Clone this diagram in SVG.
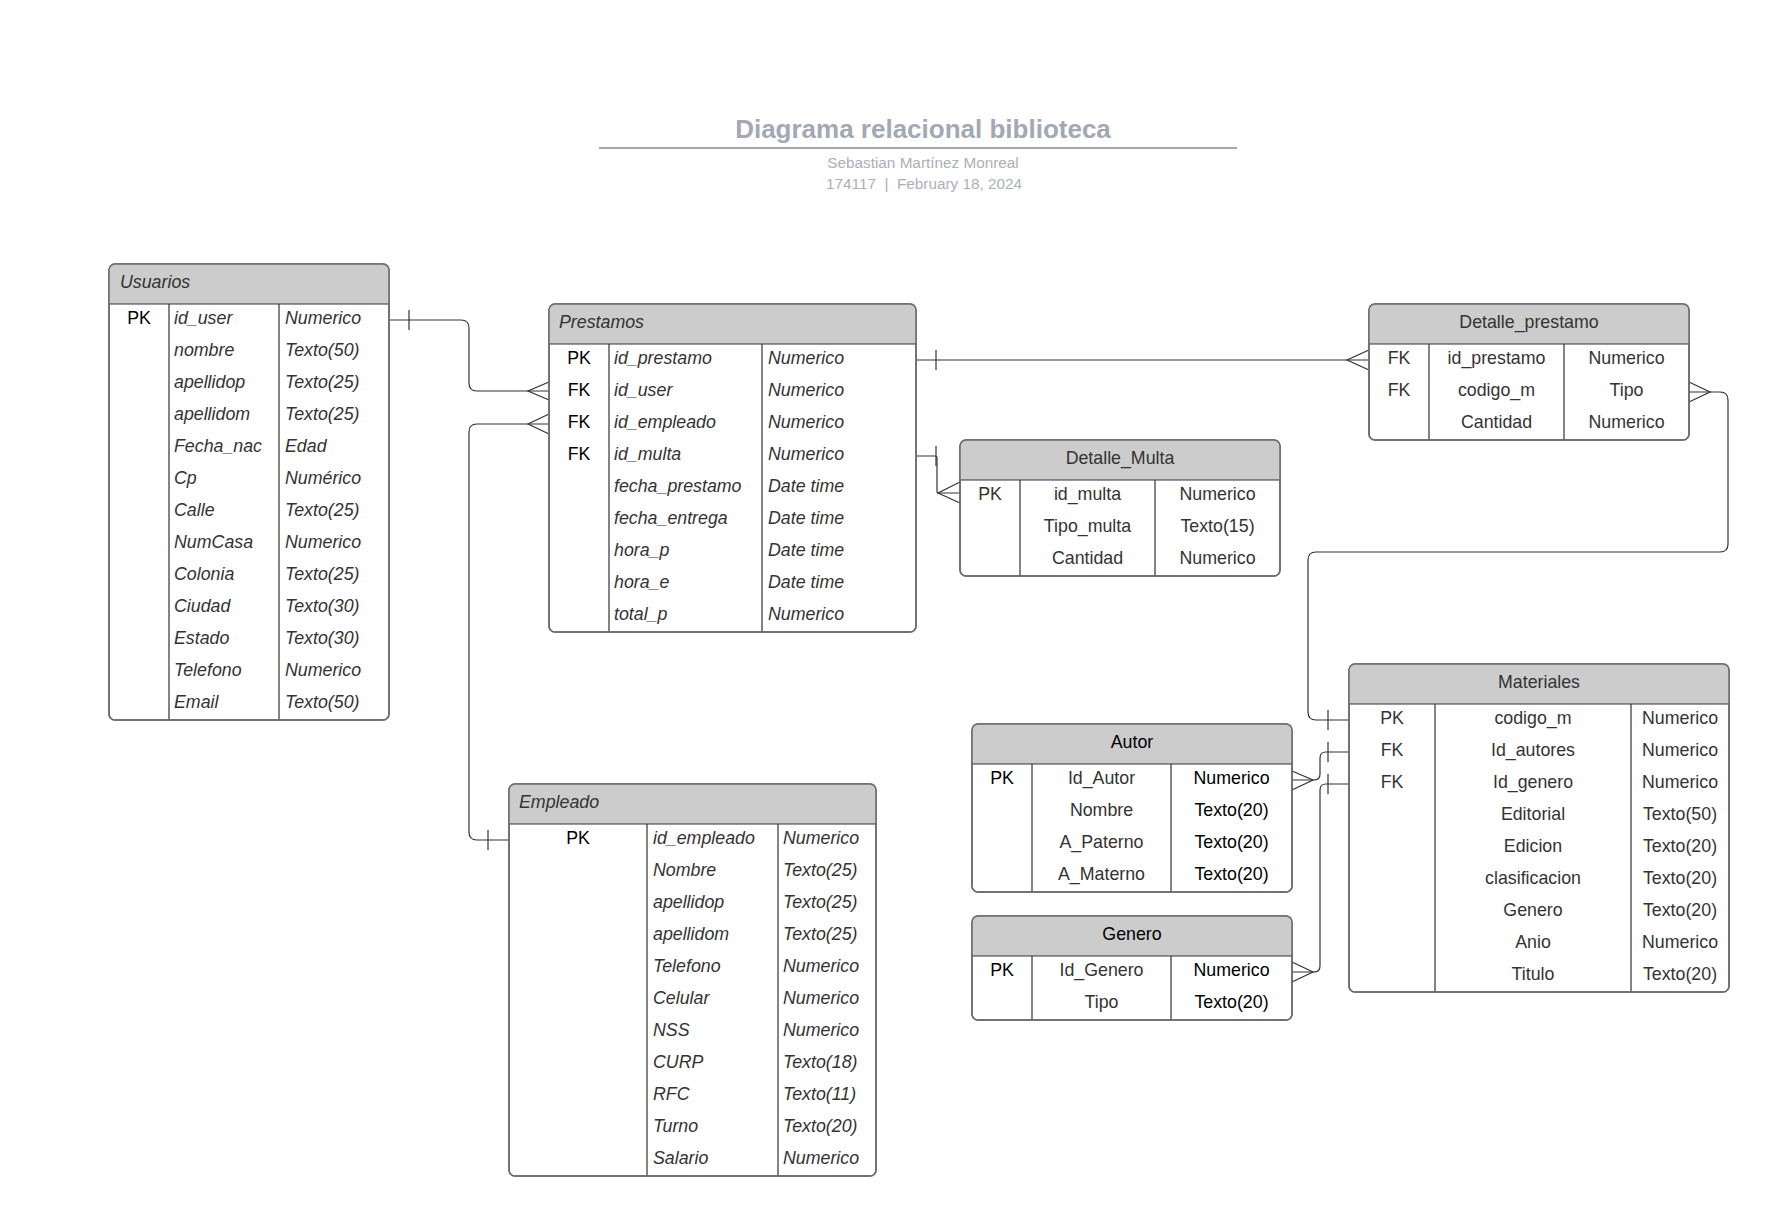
<svg xmlns="http://www.w3.org/2000/svg" width="1770" height="1216" viewBox="0 0 1770 1216">
<style>
.bg{fill:#ffffff}
.box{fill:#ffffff;stroke:#6b6b6b;stroke-width:1.5}
.ol{fill:none;stroke:#6b6b6b;stroke-width:1.5}
.hdr{fill:#cccccc}
.dv{stroke:#333333;stroke-width:1.2;fill:none}
.t{font-family:"Liberation Sans",Arial,Helvetica,sans-serif;font-size:17.8px;fill:#333333}
.i{font-style:italic}
.k{fill:#000000}
.c{text-anchor:middle}
.conn{fill:none;stroke:#333333;stroke-width:1.2}
.title{font-family:"Liberation Sans",Arial,Helvetica,sans-serif;font-size:26px;font-weight:bold;fill:#a3a9b3;text-anchor:middle}
.sub{font-family:"Liberation Sans",Arial,Helvetica,sans-serif;font-size:15.3px;fill:#abb0b8;text-anchor:middle;white-space:pre}
</style>
<rect class="bg" x="0" y="0" width="1770" height="1216"/>

<g id="title">
<text class="title" x="923" y="138">Diagrama relacional biblioteca</text>
<line x1="599" y1="148" x2="1237" y2="148" stroke="#a3a9b3" stroke-width="2"/>
<text class="sub" x="923" y="168">Sebastian Martínez Monreal</text>
<text class="sub" x="924" y="189" xml:space="preserve">174117  |  February 18, 2024</text>
</g>

<g id="connectors">
<!-- Usuarios -> Prestamos -->
<path class="conn" d="M389,320 H461 Q469,320 469,328 V383 Q469,391 477,391 H549"/>
<line class="conn" x1="409" y1="310" x2="409" y2="330"/>
<path class="conn" d="M549,382 L528,391 L549,400"/>
<!-- Prestamos -> Empleado -->
<path class="conn" d="M549,424 H477 Q469,424 469,432 V832 Q469,840 477,840 H509"/>
<path class="conn" d="M549,414 L528,424 L549,434"/>
<line class="conn" x1="488" y1="830" x2="488" y2="850"/>
<!-- Prestamos -> Detalle_prestamo -->
<path class="conn" d="M916,360 H1369"/>
<line class="conn" x1="936" y1="350" x2="936" y2="370"/>
<path class="conn" d="M1369,350 L1347,360 L1369,370"/>
<!-- Prestamos -> Detalle_Multa -->
<path class="conn" d="M916,456 H935 Q937,456 937,458 V491 Q937,493 939,493 H960"/>
<line class="conn" x1="936" y1="446" x2="936" y2="466"/>
<path class="conn" d="M960,482 L938,493 L960,503"/>
<!-- Detalle_prestamo -> Materiales -->
<path class="conn" d="M1689,392 H1720 Q1728,392 1728,400 V544 Q1728,552 1720,552 H1316 Q1308,552 1308,560 V712 Q1308,720 1316,720 H1349"/>
<path class="conn" d="M1689,382 L1710,392 L1689,402"/>
<line class="conn" x1="1328" y1="710" x2="1328" y2="730"/>
<!-- Autor -> Materiales -->
<path class="conn" d="M1292,780 H1314 Q1320,780 1320,774 V758 Q1320,752 1326,752 H1349"/>
<path class="conn" d="M1292,771 L1313,780 L1292,790"/>
<line class="conn" x1="1328" y1="742" x2="1328" y2="762"/>
<!-- Genero -> Materiales -->
<path class="conn" d="M1292,972 H1314 Q1320,972 1320,966 V790 Q1320,784 1326,784 H1349"/>
<path class="conn" d="M1292,962 L1313,972 L1292,982"/>
<line class="conn" x1="1328" y1="774" x2="1328" y2="794"/>
</g>

<g id="Usuarios">
<rect class="box" x="109" y="264" width="280" height="456" rx="6"/>
<path class="hdr" d="M109,304 V270 Q109,264 115,264 H383 Q389,264 389,270 V304 Z"/>
<line class="dv" x1="109" y1="304" x2="389" y2="304"/>
<line class="dv" x1="169" y1="304" x2="169" y2="720"/>
<line class="dv" x1="279" y1="304" x2="279" y2="720"/>
<rect class="ol" x="109" y="264" width="280" height="456" rx="6"/>
<text class="t i" x="120" y="288">Usuarios</text>
<text class="t k c" x="139" y="324">PK</text>
<text class="t i" x="174" y="324">id_user</text><text class="t i" x="285" y="324">Numerico</text>
<text class="t i" x="174" y="356">nombre</text><text class="t i" x="285" y="356">Texto(50)</text>
<text class="t i" x="174" y="388">apellidop</text><text class="t i" x="285" y="388">Texto(25)</text>
<text class="t i" x="174" y="420">apellidom</text><text class="t i" x="285" y="420">Texto(25)</text>
<text class="t i" x="174" y="452">Fecha_nac</text><text class="t i" x="285" y="452">Edad</text>
<text class="t i" x="174" y="484">Cp</text><text class="t i" x="285" y="484">Numérico</text>
<text class="t i" x="174" y="516">Calle</text><text class="t i" x="285" y="516">Texto(25)</text>
<text class="t i" x="174" y="548">NumCasa</text><text class="t i" x="285" y="548">Numerico</text>
<text class="t i" x="174" y="580">Colonia</text><text class="t i" x="285" y="580">Texto(25)</text>
<text class="t i" x="174" y="612">Ciudad</text><text class="t i" x="285" y="612">Texto(30)</text>
<text class="t i" x="174" y="644">Estado</text><text class="t i" x="285" y="644">Texto(30)</text>
<text class="t i" x="174" y="676">Telefono</text><text class="t i" x="285" y="676">Numerico</text>
<text class="t i" x="174" y="708">Email</text><text class="t i" x="285" y="708">Texto(50)</text>
</g>

<g id="Prestamos">
<rect class="box" x="549" y="304" width="367" height="328" rx="6"/>
<path class="hdr" d="M549,344 V310 Q549,304 555,304 H910 Q916,304 916,310 V344 Z"/>
<line class="dv" x1="549" y1="344" x2="916" y2="344"/>
<line class="dv" x1="609" y1="344" x2="609" y2="632"/>
<line class="dv" x1="762" y1="344" x2="762" y2="632"/>
<rect class="ol" x="549" y="304" width="367" height="328" rx="6"/>
<text class="t i" x="559" y="328">Prestamos</text>
<text class="t k c" x="579" y="364">PK</text><text class="t i" x="614" y="364">id_prestamo</text><text class="t i" x="768" y="364">Numerico</text>
<text class="t k c" x="579" y="396">FK</text><text class="t i" x="614" y="396">id_user</text><text class="t i" x="768" y="396">Numerico</text>
<text class="t k c" x="579" y="428">FK</text><text class="t i" x="614" y="428">id_empleado</text><text class="t i" x="768" y="428">Numerico</text>
<text class="t k c" x="579" y="460">FK</text><text class="t i" x="614" y="460">id_multa</text><text class="t i" x="768" y="460">Numerico</text>
<text class="t i" x="614" y="492">fecha_prestamo</text><text class="t i" x="768" y="492">Date time</text>
<text class="t i" x="614" y="524">fecha_entrega</text><text class="t i" x="768" y="524">Date time</text>
<text class="t i" x="614" y="556">hora_p</text><text class="t i" x="768" y="556">Date time</text>
<text class="t i" x="614" y="588">hora_e</text><text class="t i" x="768" y="588">Date time</text>
<text class="t i" x="614" y="620">total_p</text><text class="t i" x="768" y="620">Numerico</text>
</g>

<g id="Empleado">
<rect class="box" x="509" y="784" width="367" height="392" rx="6"/>
<path class="hdr" d="M509,824 V790 Q509,784 515,784 H870 Q876,784 876,790 V824 Z"/>
<line class="dv" x1="509" y1="824" x2="876" y2="824"/>
<line class="dv" x1="647" y1="824" x2="647" y2="1176"/>
<line class="dv" x1="778" y1="824" x2="778" y2="1176"/>
<rect class="ol" x="509" y="784" width="367" height="392" rx="6"/>
<text class="t i" x="519" y="808">Empleado</text>
<text class="t k c" x="578" y="844">PK</text>
<text class="t i" x="653" y="844">id_empleado</text><text class="t i" x="783" y="844">Numerico</text>
<text class="t i" x="653" y="876">Nombre</text><text class="t i" x="783" y="876">Texto(25)</text>
<text class="t i" x="653" y="908">apellidop</text><text class="t i" x="783" y="908">Texto(25)</text>
<text class="t i" x="653" y="940">apellidom</text><text class="t i" x="783" y="940">Texto(25)</text>
<text class="t i" x="653" y="972">Telefono</text><text class="t i" x="783" y="972">Numerico</text>
<text class="t i" x="653" y="1004">Celular</text><text class="t i" x="783" y="1004">Numerico</text>
<text class="t i" x="653" y="1036">NSS</text><text class="t i" x="783" y="1036">Numerico</text>
<text class="t i" x="653" y="1068">CURP</text><text class="t i" x="783" y="1068">Texto(18)</text>
<text class="t i" x="653" y="1100">RFC</text><text class="t i" x="783" y="1100">Texto(11)</text>
<text class="t i" x="653" y="1132">Turno</text><text class="t i" x="783" y="1132">Texto(20)</text>
<text class="t i" x="653" y="1164">Salario</text><text class="t i" x="783" y="1164">Numerico</text>
</g>

<g id="Detalle_Multa">
<rect class="box" x="960" y="440" width="320" height="136" rx="6"/>
<path class="hdr" d="M960,480 V446 Q960,440 966,440 H1274 Q1280,440 1280,446 V480 Z"/>
<line class="dv" x1="960" y1="480" x2="1280" y2="480"/>
<line class="dv" x1="1020" y1="480" x2="1020" y2="576"/>
<line class="dv" x1="1155" y1="480" x2="1155" y2="576"/>
<rect class="ol" x="960" y="440" width="320" height="136" rx="6"/>
<text class="t c" x="1120" y="464">Detalle_Multa</text>
<text class="t c" x="990" y="500">PK</text><text class="t c" x="1087.5" y="500">id_multa</text><text class="t c" x="1217.5" y="500">Numerico</text>
<text class="t c" x="1087.5" y="532">Tipo_multa</text><text class="t c" x="1217.5" y="532">Texto(15)</text>
<text class="t c" x="1087.5" y="564">Cantidad</text><text class="t c" x="1217.5" y="564">Numerico</text>
</g>

<g id="Detalle_prestamo">
<rect class="box" x="1369" y="304" width="320" height="136" rx="6"/>
<path class="hdr" d="M1369,344 V310 Q1369,304 1375,304 H1683 Q1689,304 1689,310 V344 Z"/>
<line class="dv" x1="1369" y1="344" x2="1689" y2="344"/>
<line class="dv" x1="1429" y1="344" x2="1429" y2="440"/>
<line class="dv" x1="1564" y1="344" x2="1564" y2="440"/>
<rect class="ol" x="1369" y="304" width="320" height="136" rx="6"/>
<text class="t c" x="1529" y="328">Detalle_prestamo</text>
<text class="t c" x="1399" y="364">FK</text><text class="t c" x="1496.5" y="364">id_prestamo</text><text class="t c" x="1626.5" y="364">Numerico</text>
<text class="t c" x="1399" y="396">FK</text><text class="t c" x="1496.5" y="396">codigo_m</text><text class="t c" x="1626.5" y="396">Tipo</text>
<text class="t c" x="1496.5" y="428">Cantidad</text><text class="t c" x="1626.5" y="428">Numerico</text>
</g>

<g id="Autor">
<rect class="box" x="972" y="724" width="320" height="168" rx="6"/>
<path class="hdr" d="M972,764 V730 Q972,724 978,724 H1286 Q1292,724 1292,730 V764 Z"/>
<line class="dv" x1="972" y1="764" x2="1292" y2="764"/>
<line class="dv" x1="1032" y1="764" x2="1032" y2="892"/>
<line class="dv" x1="1171" y1="764" x2="1171" y2="892"/>
<rect class="ol" x="972" y="724" width="320" height="168" rx="6"/>
<text class="t c k" x="1132" y="748">Autor</text>
<text class="t c k" x="1002" y="784">PK</text><text class="t c" x="1101.5" y="784">Id_Autor</text><text class="t c k" x="1231.5" y="784">Numerico</text>
<text class="t c" x="1101.5" y="816">Nombre</text><text class="t c k" x="1231.5" y="816">Texto(20)</text>
<text class="t c" x="1101.5" y="848">A_Paterno</text><text class="t c k" x="1231.5" y="848">Texto(20)</text>
<text class="t c" x="1101.5" y="880">A_Materno</text><text class="t c k" x="1231.5" y="880">Texto(20)</text>
</g>

<g id="Genero">
<rect class="box" x="972" y="916" width="320" height="104" rx="6"/>
<path class="hdr" d="M972,956 V922 Q972,916 978,916 H1286 Q1292,916 1292,922 V956 Z"/>
<line class="dv" x1="972" y1="956" x2="1292" y2="956"/>
<line class="dv" x1="1032" y1="956" x2="1032" y2="1020"/>
<line class="dv" x1="1171" y1="956" x2="1171" y2="1020"/>
<rect class="ol" x="972" y="916" width="320" height="104" rx="6"/>
<text class="t c k" x="1132" y="940">Genero</text>
<text class="t c k" x="1002" y="976">PK</text><text class="t c" x="1101.5" y="976">Id_Genero</text><text class="t c k" x="1231.5" y="976">Numerico</text>
<text class="t c" x="1101.5" y="1008">Tipo</text><text class="t c k" x="1231.5" y="1008">Texto(20)</text>
</g>

<g id="Materiales">
<rect class="box" x="1349" y="664" width="380" height="328" rx="6"/>
<path class="hdr" d="M1349,704 V670 Q1349,664 1355,664 H1723 Q1729,664 1729,670 V704 Z"/>
<line class="dv" x1="1349" y1="704" x2="1729" y2="704"/>
<line class="dv" x1="1435" y1="704" x2="1435" y2="992"/>
<line class="dv" x1="1631" y1="704" x2="1631" y2="992"/>
<rect class="ol" x="1349" y="664" width="380" height="328" rx="6"/>
<text class="t c" x="1539" y="688">Materiales</text>
<text class="t c" x="1392" y="724">PK</text><text class="t c" x="1533" y="724">codigo_m</text><text class="t c" x="1680" y="724">Numerico</text>
<text class="t c" x="1392" y="756">FK</text><text class="t c" x="1533" y="756">Id_autores</text><text class="t c" x="1680" y="756">Numerico</text>
<text class="t c" x="1392" y="788">FK</text><text class="t c" x="1533" y="788">Id_genero</text><text class="t c" x="1680" y="788">Numerico</text>
<text class="t c" x="1533" y="820">Editorial</text><text class="t c" x="1680" y="820">Texto(50)</text>
<text class="t c" x="1533" y="852">Edicion</text><text class="t c" x="1680" y="852">Texto(20)</text>
<text class="t c" x="1533" y="884">clasificacion</text><text class="t c" x="1680" y="884">Texto(20)</text>
<text class="t c" x="1533" y="916">Genero</text><text class="t c" x="1680" y="916">Texto(20)</text>
<text class="t c" x="1533" y="948">Anio</text><text class="t c" x="1680" y="948">Numerico</text>
<text class="t c" x="1533" y="980">Titulo</text><text class="t c" x="1680" y="980">Texto(20)</text>
</g>
</svg>
